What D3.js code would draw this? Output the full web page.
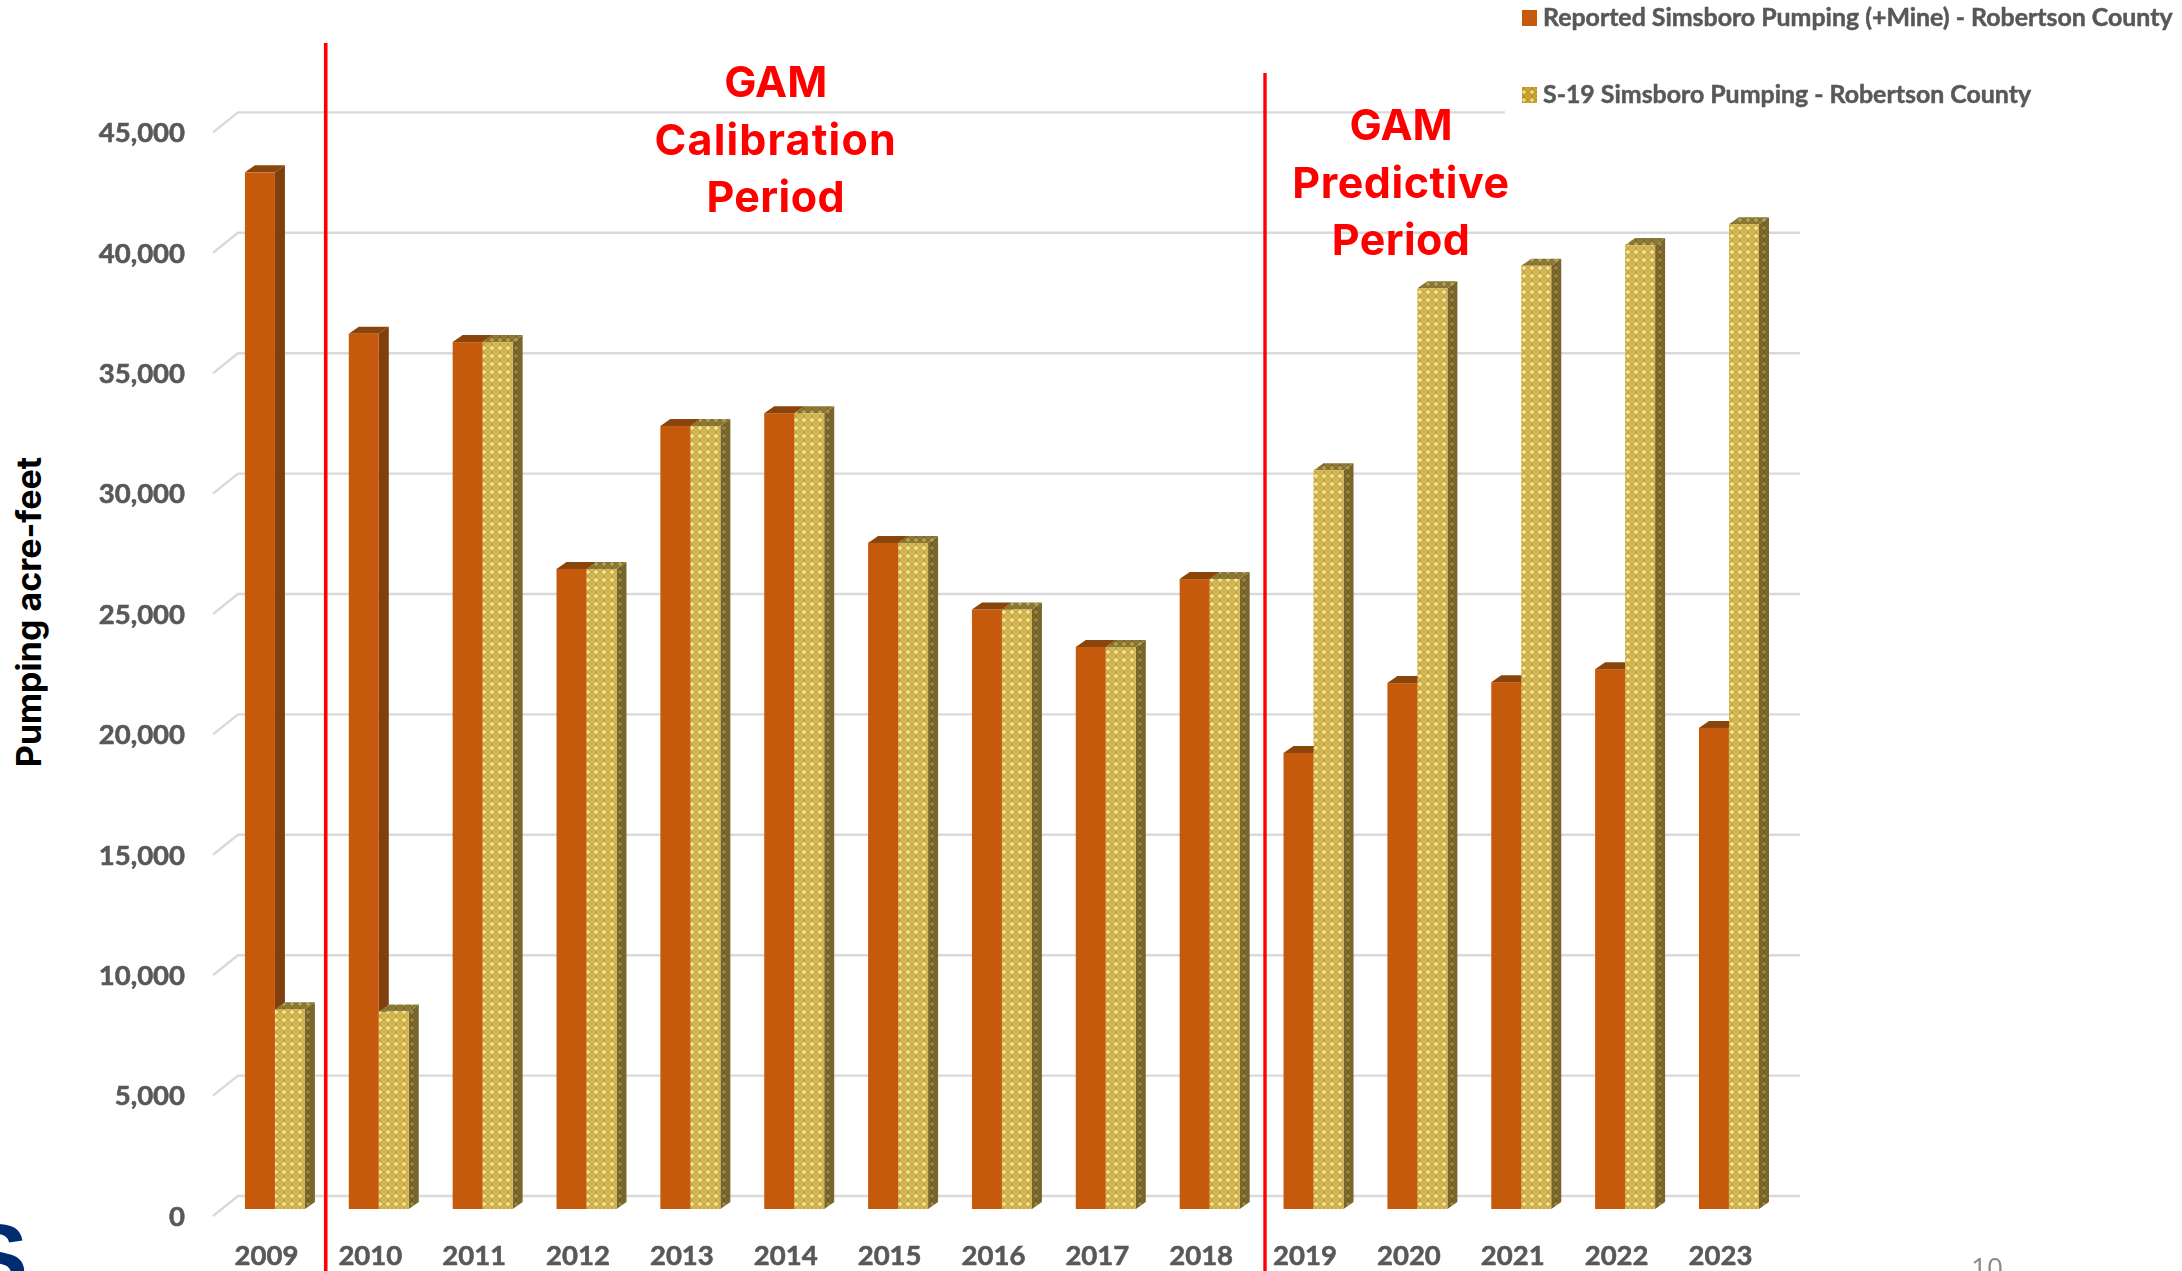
<!DOCTYPE html>
<html><head><meta charset="utf-8">
<script src="https://cdn.jsdelivr.net/npm/d3@7/dist/d3.min.js"></script>
<style>html,body{margin:0;padding:0;background:#fff;overflow:hidden}svg{display:block}</style>
</head><body><div id="c"></div>
<script>
const years=["2009","2010","2011","2012","2013","2014","2015","2016","2017","2018","2019","2020","2021","2022","2023"];
const reported=[43050,36350,36000,26580,32520,33050,27660,24900,23340,26160,18940,21840,21880,22420,19980];
const s19=[8300,8200,36000,26580,32520,33050,27660,24900,23340,26160,30680,38240,39170,40030,40900];
const yTicks=[0,5000,10000,15000,20000,25000,30000,35000,40000,45000];
const seriesNames=["Reported Simsboro Pumping (+Mine) - Robertson County","S-19 Simsboro Pumping - Robertson County"];
const calibrationLabel=["GAM","Calibration","Period"];
const predictiveLabel=["GAM","Predictive","Period"];

const W=2182,H=1271,dx=10,dy=7;
const svg=d3.select("#c").append("svg").attr("width",W).attr("height",H).attr("viewBox",[0,0,W,H]);
svg.append("rect").attr("width",W).attr("height",H).attr("fill","#fff");
const defs=svg.append("defs");
function pat(id,base,dark,light){
  const p=defs.append("pattern").attr("id",id).attr("patternUnits","userSpaceOnUse").attr("width",8).attr("height",8);
  p.append("rect").attr("width",8).attr("height",8).attr("fill",base);
  p.append("path").attr("d","M0 4L4 0L8 4L4 8Z").attr("fill","none").attr("stroke",dark).attr("stroke-width",1.5);
  p.append("circle").attr("cx",4).attr("cy",4).attr("r",1.4).attr("fill",light);
  [[0,0],[8,0],[0,8],[8,8]].forEach(c=>p.append("circle").attr("cx",c[0]).attr("cy",c[1]).attr("r",1.4).attr("fill",dark));
}
pat("gold","#e9cf72","#c4a53f","#f4e6a0");
pat("goldSide","#8b7635","#6f5c25","#9c8743");
pat("goldTop","#a08c45","#7f6c2c","#b5a25a");
pat("goldLegend","#e0bd4a","#b8901c","#f0dc90");
defs.append("filter").attr("id","soft").append("feGaussianBlur").attr("stdDeviation",0.55);

const y=d3.scaleLinear().domain([0,45000]).range([1209,1209-1083.6]);
const x=d3.scaleBand().domain(years).range([223,223+15*103.86]).paddingInner(0.4223).paddingOuter(0.2112);
const sub=d3.scaleBand().domain([0,1]).range([0,x.bandwidth()]);
const wallShift=-13;

// gridlines
const grid=svg.append("g").attr("stroke","#d9d9d9").attr("stroke-width",2.4).attr("fill","none");
grid.selectAll("path").data(yTicks).join("path")
  .attr("d",v=>{const b=y(v)+wallShift;return `M213 ${b+20}L238 ${b}L1800 ${b}`;});

// white panel behind the legend
svg.append("rect").attr("x",1505).attr("y",0).attr("width",W-1505).attr("height",125).attr("fill","#fff");

const soft=svg.append("g").attr("filter","url(#soft)");

function styleLabels(sel){
  sel.attr("font-family","Lato").attr("font-weight",700).attr("font-size",27.5)
     .attr("fill","#595959").attr("stroke","#595959").attr("stroke-width",0.6);
}
// y axis labels
const ya=soft.append("g").attr("transform","translate(185,7.5)")
  .call(d3.axisLeft(y).tickValues(yTicks).tickFormat(d3.format(",")).tickSize(0).tickPadding(0));
ya.select(".domain").remove();
styleLabels(ya.selectAll("text"));

// x axis labels
const xa=soft.append("g").attr("transform","translate(-8.5,1245)")
  .call(d3.axisBottom(x).tickSize(0).tickPadding(0));
xa.select(".domain").remove();
styleLabels(xa.selectAll("text"));

// legend
const lg=soft.append("g").attr("font-family","Lato").attr("font-weight",700).attr("font-size",24.9)
  .attr("fill","#595959").attr("stroke","#595959").attr("stroke-width",0.5);
const lgY=[18,95];
const lgFill=["#c55a11","url(#goldLegend)"];
seriesNames.forEach((n,i)=>{
  lg.append("rect").attr("x",1522).attr("y",lgY[i]-8).attr("width",15).attr("height",16).attr("fill",lgFill[i]).attr("stroke","none");
  lg.append("text").attr("x",1543).attr("y",lgY[i]+8).text(n);
});

// bars
function bar(g,vals,i,front,side,top){
  const w=sub.bandwidth();
  const gg=g.append("g");
  gg.selectAll("g").data(years.map((yr,k)=>({yr,v:vals[k]}))).join("g").each(function(d){
    const s=d3.select(this),l=x(d.yr)+sub(i),r=l+w,t=y(d.v),b=y(0);
    s.append("path").attr("fill",side).attr("d",`M${r} ${t}L${r+dx} ${t-dy}L${r+dx} ${b-dy}L${r} ${b}Z`);
    s.append("path").attr("fill",top).attr("d",`M${l} ${t}L${l+dx} ${t-dy}L${r+dx} ${t-dy}L${r} ${t}Z`);
    s.append("rect").attr("x",l).attr("y",t).attr("width",w).attr("height",b-t).attr("fill",front);
  });
}
bar(soft,reported,0,"#c55a11","#7f3f0b","#8a4509");
bar(soft,s19,1,"url(#gold)","url(#goldSide)","url(#goldTop)");

// period dividers
svg.append("line").attr("x1",325.7).attr("x2",325.7).attr("y1",43).attr("y2",H).attr("stroke","#ff0000").attr("stroke-width",3.6);
svg.append("line").attr("x1",1265).attr("x2",1265).attr("y1",73).attr("y2",H).attr("stroke","#ff0000").attr("stroke-width",3.4);

// period labels
function label(lines,cx,y0,spacing){
  svg.append("g").selectAll("text").data(lines).join("text")
    .attr("x",cx).attr("y",(d,i)=>y0+i*57.5).attr("text-anchor","middle")
    .attr("letter-spacing",(d,i)=>spacing[i])
    .attr("font-family","Inter").attr("font-weight",700).attr("font-size",43).attr("fill","#ff0000").text(d=>d);
}
label(calibrationLabel,775.7,97,[0,1.15,0.4]);
label(predictiveLabel,1401,140,[0,0.55,0.4]);

// y title
svg.append("text").attr("transform","translate(41,612) rotate(-90)").attr("text-anchor","middle")
  .attr("font-family","Inter").attr("font-weight",700).attr("font-size",34).attr("fill","#000").text("Pumping acre-feet");

// page number and cropped logo letter
svg.append("text").attr("x",1987).attr("y",1278).attr("text-anchor","middle").attr("font-family","Open Sans").attr("font-size",28).attr("fill","#8a8a8a").text("10");
svg.append("text").attr("x",-36).attr("y",1291).attr("font-family","Liberation Sans").attr("font-weight",700).attr("font-size",96).attr("fill","#002d72").text("S");
</script></body></html>
